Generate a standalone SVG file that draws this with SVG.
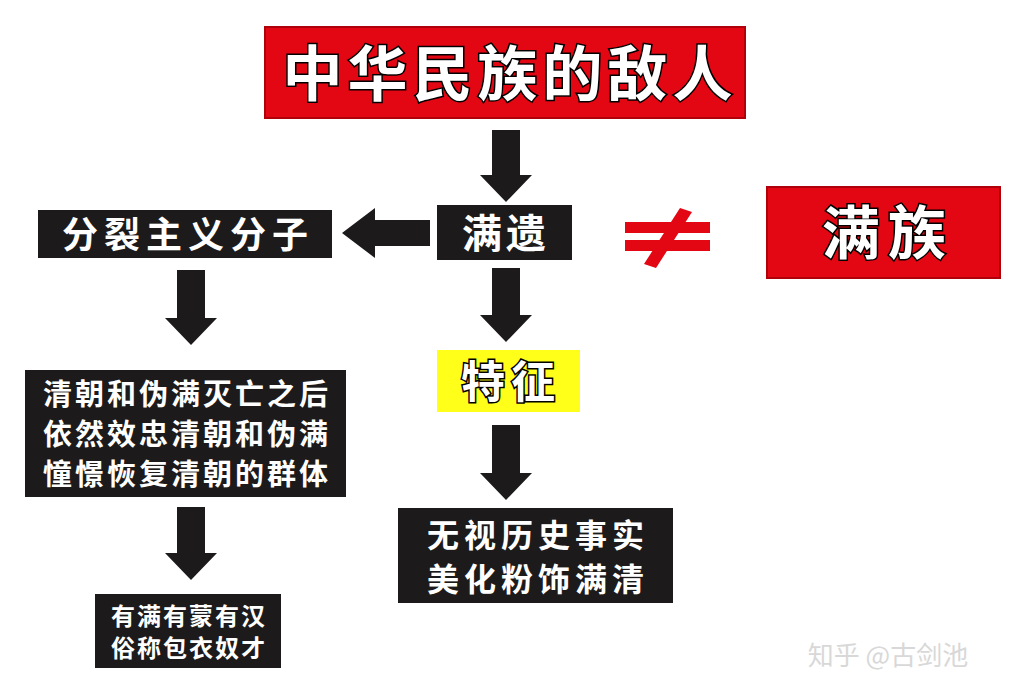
<svg xmlns="http://www.w3.org/2000/svg" width="1024" height="699" viewBox="0 0 1024 699">
<style>
.t{font-family:"Noto Sans CJK SC","Noto Sans",sans-serif;font-weight:bold;fill:#fff;text-anchor:middle}
.o{stroke:#000;stroke-width:3;paint-order:stroke}
.bk{fill:#1c1a1a}
.rd{fill:#e30613;stroke:#b0000a;stroke-width:2}
.ar{fill:#1c1a1a}
</style>
<rect width="1024" height="699" fill="#fff"/>
<g id="title"><rect class="rd" x="265" y="27" width="480" height="91"/><text class="t o" x="510" y="96" font-size="60" letter-spacing="5">中华民族的敌人</text></g>
<g id="manyi"><rect class="bk" x="437" y="205" width="135" height="55"/><text class="t" x="506" y="248" font-size="40" letter-spacing="4">满遗</text></g>
<g id="fenlie"><rect class="bk" x="38" y="210" width="294" height="48"/><text class="t" x="188" y="248" font-size="36" letter-spacing="6">分裂主义分子</text></g>
<g id="neq" fill="#e30613"><rect x="625" y="222" width="85" height="11"/><rect x="625" y="240" width="85" height="11"/><polygon points="680,208 692,212 656,268 644,264"/></g>
<g id="manzu"><rect class="rd" x="767" y="187" width="233" height="91"/><text class="t o" x="888" y="254" font-size="58" letter-spacing="8">满族</text></g>
<g id="tezheng"><rect x="437" y="350" width="143" height="62" fill="#ffff1a"/><text class="t o" x="511" y="398" font-size="44" letter-spacing="6">特征</text></g>
<g id="wushi"><rect class="bk" x="398" y="508" width="275" height="95"/><text class="t" x="538" y="547" font-size="32" letter-spacing="5">无视历史事实</text><text class="t" x="538" y="591" font-size="32" letter-spacing="5">美化粉饰满清</text></g>
<g id="qingchao"><rect class="bk" x="25" y="370" width="321" height="127"/><text class="t" x="187" y="405" font-size="29" letter-spacing="3">清朝和伪满灭亡之后</text><text class="t" x="187" y="445" font-size="29" letter-spacing="3">依然效忠清朝和伪满</text><text class="t" x="187" y="485" font-size="29" letter-spacing="3">憧憬恢复清朝的群体</text></g>
<g id="baoyi"><rect class="bk" x="95" y="594" width="186" height="74"/><text class="t" x="189" y="625" font-size="24" letter-spacing="2">有满有蒙有汉</text><text class="t" x="189" y="657" font-size="24" letter-spacing="2">俗称包衣奴才</text></g>
<g id="connectors">
<polygon class="ar" points="492,130 520,130 520,175 532,175 506,202 480,175 492,175"/>
<polygon class="ar" points="430,220 430,246 375,246 375,258 342,233 375,208 375,220"/>
<polygon class="ar" points="492,268 520,268 520,315 532,315 506,342 480,315 492,315"/>
<polygon class="ar" points="492,425 520,425 520,473 532,473 506,500 480,473 492,473"/>
<polygon class="ar" points="177,270 205,270 205,318 217,318 191,345 165,318 177,318"/>
<polygon class="ar" points="177,507 205,507 205,553 217,553 191,580 165,553 177,553"/>
</g>
<text x="888" y="665" font-family="Noto Sans CJK SC,sans-serif" font-size="26" fill="#d8d8d8" text-anchor="middle">知乎 @古剑池</text>
</svg>
